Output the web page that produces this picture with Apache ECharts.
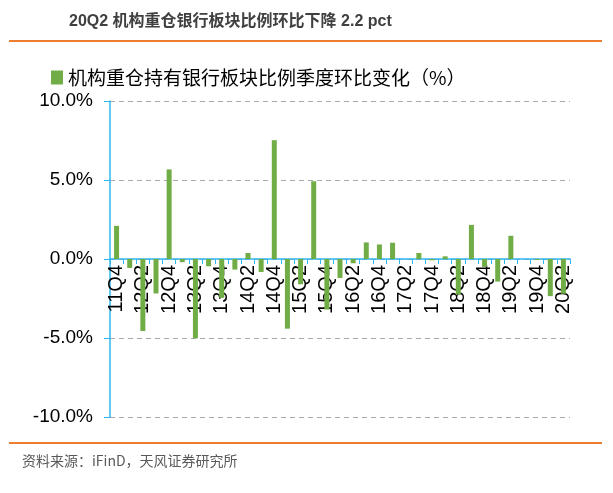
<!DOCTYPE html>
<html>
<head>
<meta charset="utf-8">
<script src="https://cdn.jsdelivr.net/npm/echarts@6/dist/echarts.min.js"></script>
<style>html,body{margin:0;padding:0;background:#fff;}#c{width:613px;height:493px;}</style>
</head>
<body>
<div id="c"></div>
<script>
var categories = ['11Q4','12Q1','12Q2','12Q3','12Q4','13Q1','13Q2','13Q3','13Q4','14Q1','14Q2','14Q3','14Q4',
  '15Q1','15Q2','15Q3','15Q4','16Q1','16Q2','16Q3','16Q4','17Q1','17Q2','17Q3','17Q4',
  '18Q1','18Q2','18Q3','18Q4','19Q1','19Q2','19Q3','19Q4','20Q1','20Q2'];
var values = [2.1,-0.57,-4.56,-2.18,5.67,-0.2,-5.02,-0.46,-2.46,-0.67,0.38,-0.82,7.52,
  -4.41,-1.6,4.92,-3.2,-1.2,-0.27,1.05,0.92,1.03,0,0.38,-0.08,
  0.17,-2.25,2.16,-0.5,-1.43,1.47,0,-0.06,-2.35,-2.2];
var yTicks = [-10,-5,0,5,10];
var seriesName = '机构重仓持有银行板块比例季度环比变化（%）';
var titleText = '20Q2 机构重仓银行板块比例环比下降 2.2 pct';
var sourceText = '资料来源：iFinD，天风证券研究所';

var chart = echarts.init(document.getElementById('c'));
var axisColor = '#2db7ee';
var gridTop = 101, gridBottom = 76, H = 493;
var plotH = H - gridTop - gridBottom;
var yMin = yTicks[0], yMax = yTicks[yTicks.length - 1];
var zeroOffset = -plotH * (0 - yMin) / (yMax - yMin);
chart.setOption({
  animation: false,
  textStyle: {fontFamily: '"Liberation Sans", "Noto Sans CJK SC", sans-serif'},
  title: {
    text: titleText, left: 64, top: 9,
    textStyle: {fontSize: 16, fontWeight: 'bold', color: '#404040', fontFamily: '"Liberation Sans", "Noto Sans CJK SC", sans-serif'}
  },
  graphic: [
    {type: 'rect', shape: {x: 9, y: 40, width: 593, height: 2}, style: {fill: '#ed7d31'}},
    {type: 'rect', shape: {x: 9, y: 442, width: 593, height: 2}, style: {fill: '#ed7d31'}},
    {type: 'text', left: 22, top: 454, style: {text: sourceText, fontSize: 14, fill: '#595959', fontFamily: '"Noto Sans CJK SC", sans-serif'}}
  ],
  legend: {
    left: 46, top: 63, icon: 'rect', itemWidth: 12, itemHeight: 14, itemGap: 3,
    textStyle: {fontSize: 19, color: '#000', fontFamily: '"Noto Sans CJK SC", sans-serif'},
    data: [seriesName]
  },
  grid: {left: 110, right: 43, top: gridTop, bottom: gridBottom},
  xAxis: {
    type: 'category', data: categories, offset: zeroOffset,
    axisLine: {onZero: false, lineStyle: {color: axisColor, width: 1.5}},
    axisTick: {show: true, interval: 0, length: 5, lineStyle: {color: axisColor}},
    axisLabel: {interval: 1, rotate: 90, fontSize: 20, color: '#000', margin: 6},
    splitLine: {show: false}
  },
  yAxis: {
    type: 'value', min: yMin, max: yMax, interval: 5,
    axisLine: {show: true, lineStyle: {color: axisColor, width: 1.5}},
    axisTick: {show: true, length: 6, lineStyle: {color: axisColor}},
    axisLabel: {fontSize: 19, color: '#000', margin: 17, formatter: function (v) { return v.toFixed(1) + '%'; }},
    splitLine: {show: true, lineStyle: {color: '#aaaaaa', type: [5, 4], width: 1}}
  },
  series: [{
    name: seriesName, type: 'bar', data: values, barWidth: 5,
    itemStyle: {color: '#70ad47'}
  }]
});
</script>
</body>
</html>
